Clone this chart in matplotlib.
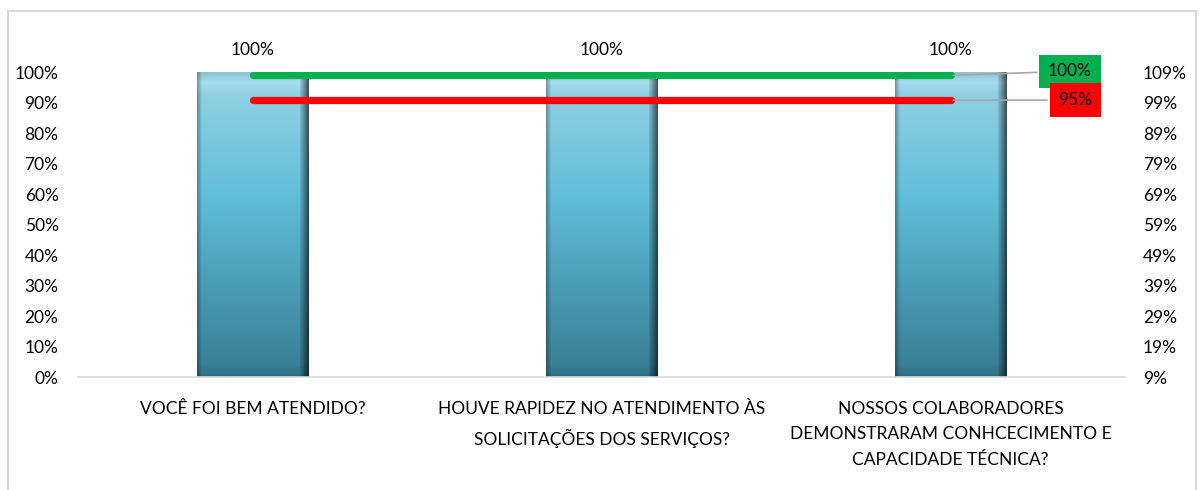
import numpy as np
import matplotlib
matplotlib.use("Agg")
import matplotlib.pyplot as plt
from matplotlib.colors import LinearSegmentedColormap
from matplotlib.patches import Rectangle
from matplotlib.ticker import FuncFormatter

plt.rcParams['font.family'] = ['Lato', 'DejaVu Sans']

categories = ["VOCÊ FOI BEM ATENDIDO?",
              "HOUVE RAPIDEZ NO ATENDIMENTO ÀS\nSOLICITAÇÕES DOS SERVIÇOS?",
              "NOSSOS COLABORADORES\nDEMONSTRARAM CONHCECIMENTO E\nCAPACIDADE TÉCNICA?"]
resultado = [100, 100, 100]
meta = [100, 100, 100]
minimo = [95, 95, 95]
right_ticks = [9, 19, 29, 39, 49, 59, 69, 79, 89, 99, 109]

fig = plt.figure(figsize=(12, 4.9), dpi=100)
ax = fig.add_axes([0.065, 0.2306, 0.8725, 0.6224])
x = np.arange(len(categories))

# bars with a vertical gradient, clipped to each bar
bars = ax.bar(x, resultado, width=0.32, facecolor='none', edgecolor='none', zorder=2)
cmap = LinearSegmentedColormap.from_list('barra', [
    (0.0, '#2f6f84'), (0.04, '#3a8197'), (0.3, '#4a9db6'), (0.6, '#62bfd9'),
    (0.93, '#8fd0e2'), (0.97, '#a9dded'), (1.0, '#8cc4d4')])
ny, nx = 300, 110
vert = cmap(np.linspace(0, 1, ny))[:, :3]
hx = np.linspace(0, 1, nx)
shade = np.ones(nx)
m = hx > 0.92
shade[m] = np.linspace(0.9, 0.4, m.sum())
m = hx < 0.04
shade[m] = np.linspace(0.7, 0.95, m.sum())
img = np.clip(vert[:, None, :] * shade[None, :, None], 0, 1)
for b in bars:
    im = ax.imshow(img, origin='lower', aspect='auto', zorder=2,
                   extent=(b.get_x(), b.get_x() + b.get_width(), 0, b.get_height()))
    im.set_clip_path(b)
ax.bar_label(bars, labels=[f"{v}%" for v in resultado], padding=10, fontsize=12.5, color='#000000')

ax.set_xlim(-0.5, len(categories) - 0.5)
ax.set_ylim(0, 100)
ax.set_yticks(np.arange(0, 101, 10))
ax.yaxis.set_major_formatter(FuncFormatter(lambda v, p: f"{v:.0f}%"))
ax.set_xticks(x)
ax.set_xticklabels(categories, fontsize=12.5, linespacing=1.75)
ax.tick_params(axis='y', length=0, pad=14, labelsize=12.5)
ax.tick_params(axis='x', length=0, pad=17)
for s in ['top', 'left', 'right']:
    ax.spines[s].set_visible(False)
ax.spines['bottom'].set_color('#d9d9d9')
ax.spines['bottom'].set_linewidth(1.2)

# secondary axis labels
ax2 = ax.twinx()
ax2.set_ylim(9, 109)
ax2.set_yticks(right_ticks)
ax2.yaxis.set_major_formatter(FuncFormatter(lambda v, p: f"{v:.0f}%"))
ax2.tick_params(axis='y', length=0, pad=13, labelsize=12.5)
for s in ax2.spines.values():
    s.set_visible(False)

# lines (meta / minimo) on their own scale
ax3 = ax.twinx()
ax3.set_ylim(38.95, 100.68)
ax3.set_axis_off()
ax3.plot(x, meta, color='#00b050', lw=5.2, solid_capstyle='round', zorder=3)
ax3.plot(x, minimo, color='#ff0000', lw=5.2, solid_capstyle='round', zorder=3)
ax3.annotate(f"{meta[-1]}%", xy=(x[-1], meta[-1]), xytext=(86, 3), textcoords='offset points',
             fontsize=12.5, ha='center', va='center',
             bbox=dict(boxstyle='square,pad=0.5', fc='#00b050', ec='none'),
             arrowprops=dict(arrowstyle='-', color='#a6a6a6', lw=1.2))
ax3.annotate(f"{minimo[-1]}%", xy=(x[-1], minimo[-1]), xytext=(90, 0), textcoords='offset points',
             fontsize=12.5, ha='center', va='center',
             bbox=dict(boxstyle='square,pad=0.5', fc='#ff0000', ec='none'),
             arrowprops=dict(arrowstyle='-', color='#a6a6a6', lw=1.2))

fig.patches.append(Rectangle((8 / 1200, -0.05), 1188 / 1200, 1.05 - 11 / 490,
                             transform=fig.transFigure, fill=False, ec='#d9d9d9', lw=1.5))

fig.savefig('out.png', dpi=100)
